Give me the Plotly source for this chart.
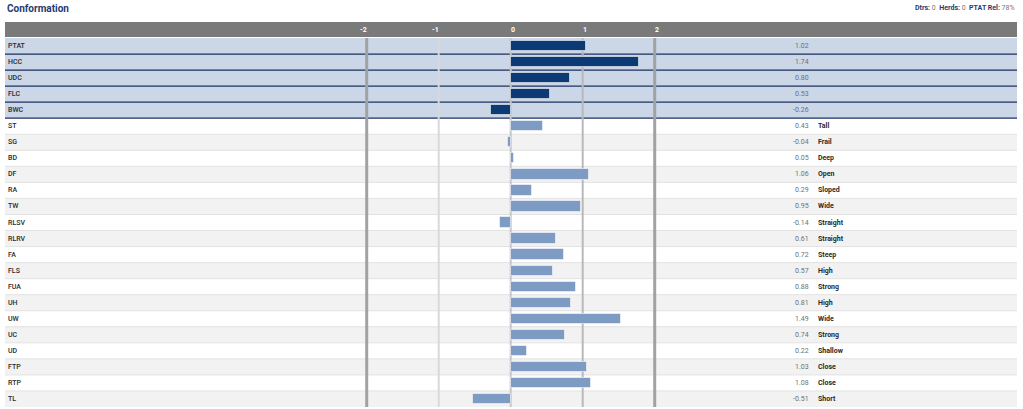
import plotly.graph_objects as go

traits = ["PTAT", "HCC", "UDC", "FLC", "BWC", "ST", "SG", "BD", "DF", "RA", "TW",
          "RLSV", "RLRV", "FA", "FLS", "FUA", "UH", "UW", "UC", "UD", "FTP", "RTP", "TL"]
values = [1.02, 1.74, 0.80, 0.53, -0.26, 0.43, -0.04, 0.05, 1.06, 0.29, 0.95,
          -0.14, 0.61, 0.72, 0.57, 0.88, 0.81, 1.49, 0.74, 0.22, 1.03, 1.08, -0.51]
descriptors = ["", "", "", "", "", "Tall", "Frail", "Deep", "Open", "Sloped", "Wide",
               "Straight", "Straight", "Steep", "High", "Strong", "High", "Wide", "Strong",
               "Shallow", "Close", "Close", "Short"]
n_composite = 5
tick_vals = [-2, -1, 0, 1, 2]
tick_labels = ["-2", "-1", "0", "1", "2"]

W, H = 1023, 409
ML, MR, MT, MB = 5, 6, 38, 2
plot_w = W - ML - MR
plot_h = H - MT - MB
ZERO_PX = 510.7          # pixel position of zero
GRID_PX = 72.0           # px per unit for grid
BAR_PX = 74.0            # px per unit for bars (reference bars run slightly long)
X0, X1 = (ML - ZERO_PX) / GRID_PX, (W - MR - ZERO_PX) / GRID_PX
B0, B1 = (ML - ZERO_PX) / BAR_PX, (W - MR - ZERO_PX) / BAR_PX

FONT = "Roboto"
NAVY_BAR = "#0b3a74"
LIGHT_BAR = "#7e9bc4"
COMP_BG = "#cbd6e6"
COMP_SEP = "#1b2f62"
ALT_BG = "#f2f2f2"
SEP = "#e2e2e2"
HEADER = "#7a7a7a"

n = len(traits)
idx = list(range(n))
colors = [NAVY_BAR if i < n_composite else LIGHT_BAR for i in idx]

fig = go.Figure()
fig.add_trace(go.Bar(
    x=values, y=idx, orientation="h", width=0.64, xaxis="x2",
    marker=dict(color=colors, line=dict(color="rgba(255,255,255,0.55)", width=1)),
    hoverinfo="x+text", text=traits, textposition="none",
))

shapes = []
for i in idx:
    if i < n_composite:
        fill = COMP_BG
    else:
        fill = "#ffffff" if (i - n_composite) % 2 == 0 else ALT_BG
    shapes.append(dict(type="rect", xref="paper", yref="y", x0=0, x1=1,
                       y0=i - 0.5, y1=i + 0.5, fillcolor=fill, line_width=0, layer="below"))
for i in idx[:-1]:
    col = COMP_SEP if i < n_composite else SEP
    w = 1.2 if i < n_composite else 1
    shapes.append(dict(type="line", xref="paper", yref="y", x0=0, x1=1,
                       y0=i + 0.5, y1=i + 0.5, line=dict(color=col, width=w), layer="below"))
grid_style = {-2: ("#a2a2a2", 3), -1: ("#d9d9d9", 2), 0: ("#c6c6c6", 2),
              1: ("#b9b9b9", 2), 2: ("#a2a2a2", 3)}
for t in tick_vals:
    c, w = grid_style[t]
    shapes.append(dict(type="line", xref="x", yref="paper", x0=t, x1=t, y0=0, y1=1,
                       line=dict(color=c, width=w), layer="below"))
gap = 1 / plot_h
hdr_h = 15 / plot_h
shapes.append(dict(type="rect", xref="paper", yref="paper", x0=0, x1=1,
                   y0=1 + gap, y1=1 + gap + hdr_h, fillcolor=HEADER, line_width=0))

annotations = []
for t, lab in zip(tick_vals, tick_labels):
    annotations.append(dict(x=t, y=1 + gap + hdr_h / 2, xref="x", yref="paper",
                            text="<b>%s</b>" % lab, showarrow=False, xanchor="center",
                            xshift=-3 if t < 0 else 2,
                            yanchor="middle", font=dict(family=FONT, size=7, color="#ffffff")))
val_x = (810.5 - ML) / plot_w
for i in idx:
    annotations.append(dict(x=0, y=i, xref="paper", yref="y", text=traits[i], showarrow=False,
                            xanchor="left", xshift=1, yanchor="middle",
                            font=dict(family=FONT, size=7, color="#2a2a2a", weight=500)))
    annotations.append(dict(x=val_x, y=i, xref="paper", yref="y", text="%.2f" % values[i],
                            showarrow=False, xanchor="right", yanchor="middle",
                            font=dict(family=FONT, size=7, color="#707070")))
    if descriptors[i]:
        annotations.append(dict(x=val_x, y=i, xref="paper", yref="y",
                                text="<b>%s</b>" % descriptors[i], showarrow=False,
                                xanchor="left", xshift=5, yanchor="middle",
                                font=dict(family=FONT, size=7, color="#2a2a2a")))
title_y = 1 + (MT - 8) / plot_h
annotations.append(dict(x=0, y=title_y, xref="paper", yref="paper", yanchor="middle",
                        xanchor="left", showarrow=False,
                        text="<b>Conformation</b>",
                        font=dict(family=FONT, size=10, color="#1f3a70")))
info = ("<b><span style='color:#1f3a70'>Dtrs:</span></b> 0  "
        "<b><span style='color:#1f3a70'>Herds:</span></b> 0  "
        "<b><span style='color:#1f3a70'>PTAT Rel:</span></b> 78%")
annotations.append(dict(x=1, y=title_y, xref="paper", yref="paper", xanchor="right",
                        yanchor="middle", showarrow=False, text=info,
                        font=dict(family=FONT, size=7, color="#777777")))

fig.update_layout(
    width=W, height=H, margin=dict(l=ML, r=MR, t=MT, b=MB, pad=0),
    paper_bgcolor="#ffffff", plot_bgcolor="#ffffff",
    showlegend=False, bargap=0,
    xaxis=dict(range=[X0, X1], showgrid=False, zeroline=False, showticklabels=False,
               fixedrange=True),
    xaxis2=dict(range=[B0, B1], overlaying="x", showgrid=False, zeroline=False,
                showticklabels=False, fixedrange=True, visible=False),
    yaxis=dict(range=[n - 0.5, -0.5], showgrid=False, zeroline=False, showticklabels=False,
               fixedrange=True),
    shapes=shapes, annotations=annotations,
)

fig.write_html("out.html", config={"displayModeBar": False},
               post_script="document.body.style.margin='0';document.body.style.overflow='hidden';")
